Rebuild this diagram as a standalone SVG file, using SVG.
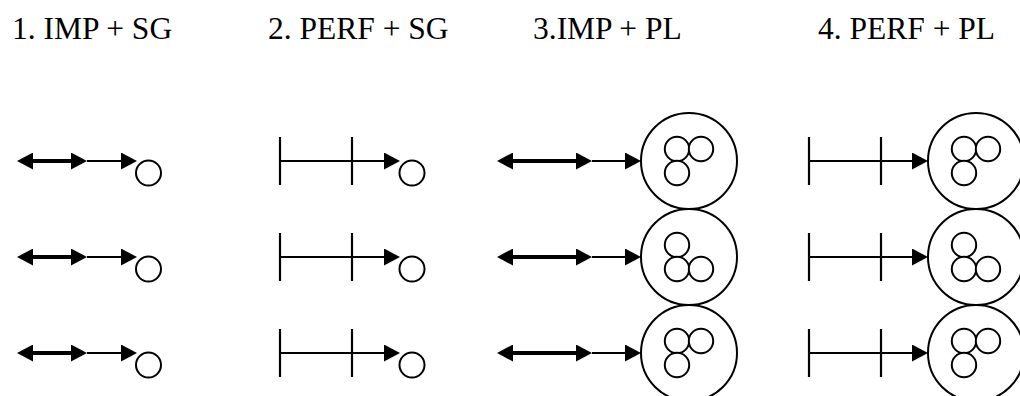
<svg xmlns="http://www.w3.org/2000/svg" width="1020" height="396" viewBox="0 0 1020 396">
<style>
.t{font-family:'Liberation Serif','Times New Roman','DejaVu Serif',serif;font-size:31.5px;fill:#000}
.c{fill:#fff;stroke:#000;stroke-width:2}
.tick{stroke:#000;stroke-width:2.2}
.thick{stroke:#000;stroke-width:3.8;fill:none}
.thin{stroke:#000;stroke-width:2;fill:none}
</style>
<defs>
<marker id="ah" viewBox="0 0 16 17" markerWidth="16" markerHeight="17" refX="0" refY="8.5" orient="auto-start-reverse" markerUnits="userSpaceOnUse">
<path d="M0,0 L16,8.5 L0,17 z" fill="#000"/>
</marker>
<g id="sm"><circle class="c" r="12.5"/></g>
<g id="bigA"><circle class="c" r="48"/><circle class="c" cx="-12" cy="-12" r="12.2"/><circle class="c" cx="12" cy="-12" r="12.2"/><circle class="c" cx="-12" cy="12" r="12.2"/></g>
<g id="bigB"><circle class="c" r="48"/><circle class="c" cx="-12" cy="-12" r="12.2"/><circle class="c" cx="-12" cy="12" r="12.2"/><circle class="c" cx="12" cy="12" r="12.2"/></g>
</defs>
<rect width="1020" height="396" fill="#fff"/>
<g id="titles">
<text class="t" x="12" y="39">1. IMP + SG</text>
<text class="t" x="268" y="39">2. PERF + SG</text>
<text class="t" x="533" y="39">3.IMP + PL</text>
<text class="t" x="818" y="39">4. PERF + PL</text>
</g>
<g id="imp-sg">
<use href="#sm" x="148.5" y="173"/>
<use href="#sm" x="148.5" y="269"/>
<use href="#sm" x="148.5" y="365"/>
</g>
<g id="perf-sg">
<line class="tick" x1="280" y1="137" x2="280" y2="185"/><line class="tick" x1="352" y1="137" x2="352" y2="185"/>
<line class="tick" x1="280" y1="233" x2="280" y2="281"/><line class="tick" x1="352" y1="233" x2="352" y2="281"/>
<line class="tick" x1="280" y1="329" x2="280" y2="377"/><line class="tick" x1="352" y1="329" x2="352" y2="377"/>
<use href="#sm" x="412" y="173"/>
<use href="#sm" x="412" y="269"/>
<use href="#sm" x="412" y="365"/>
</g>
<g id="imp-pl">
<use href="#bigA" x="689" y="161"/>
<use href="#bigB" x="689" y="257"/>
<use href="#bigA" x="689" y="353"/>
</g>
<g id="perf-pl">
<line class="tick" x1="809" y1="137" x2="809" y2="185"/><line class="tick" x1="881" y1="137" x2="881" y2="185"/>
<line class="tick" x1="809" y1="233" x2="809" y2="281"/><line class="tick" x1="881" y1="233" x2="881" y2="281"/>
<line class="tick" x1="809" y1="329" x2="809" y2="377"/><line class="tick" x1="881" y1="329" x2="881" y2="377"/>
<use href="#bigA" x="976" y="161"/>
<use href="#bigB" x="976" y="257"/>
<use href="#bigA" x="976" y="353"/>
</g>
<g id="connectors">
<line class="thick" x1="33" y1="161" x2="71" y2="161" marker-start="url(#ah)" marker-end="url(#ah)"/>
<line class="thin" x1="87" y1="161" x2="121" y2="161" marker-end="url(#ah)"/>
<line class="thick" x1="33" y1="257" x2="71" y2="257" marker-start="url(#ah)" marker-end="url(#ah)"/>
<line class="thin" x1="87" y1="257" x2="121" y2="257" marker-end="url(#ah)"/>
<line class="thick" x1="33" y1="353" x2="71" y2="353" marker-start="url(#ah)" marker-end="url(#ah)"/>
<line class="thin" x1="87" y1="353" x2="121" y2="353" marker-end="url(#ah)"/>
<line class="thin" x1="280" y1="161" x2="384" y2="161" marker-end="url(#ah)"/>
<line class="thin" x1="280" y1="257" x2="384" y2="257" marker-end="url(#ah)"/>
<line class="thin" x1="280" y1="353" x2="384" y2="353" marker-end="url(#ah)"/>
<line class="thick" x1="513" y1="161" x2="576" y2="161" marker-start="url(#ah)" marker-end="url(#ah)"/>
<line class="thin" x1="592" y1="161" x2="625" y2="161" marker-end="url(#ah)"/>
<line class="thick" x1="513" y1="257" x2="576" y2="257" marker-start="url(#ah)" marker-end="url(#ah)"/>
<line class="thin" x1="592" y1="257" x2="625" y2="257" marker-end="url(#ah)"/>
<line class="thick" x1="513" y1="353" x2="576" y2="353" marker-start="url(#ah)" marker-end="url(#ah)"/>
<line class="thin" x1="592" y1="353" x2="625" y2="353" marker-end="url(#ah)"/>
<line class="thin" x1="809" y1="161" x2="912" y2="161" marker-end="url(#ah)"/>
<line class="thin" x1="809" y1="257" x2="912" y2="257" marker-end="url(#ah)"/>
<line class="thin" x1="809" y1="353" x2="912" y2="353" marker-end="url(#ah)"/>
</g>
</svg>
